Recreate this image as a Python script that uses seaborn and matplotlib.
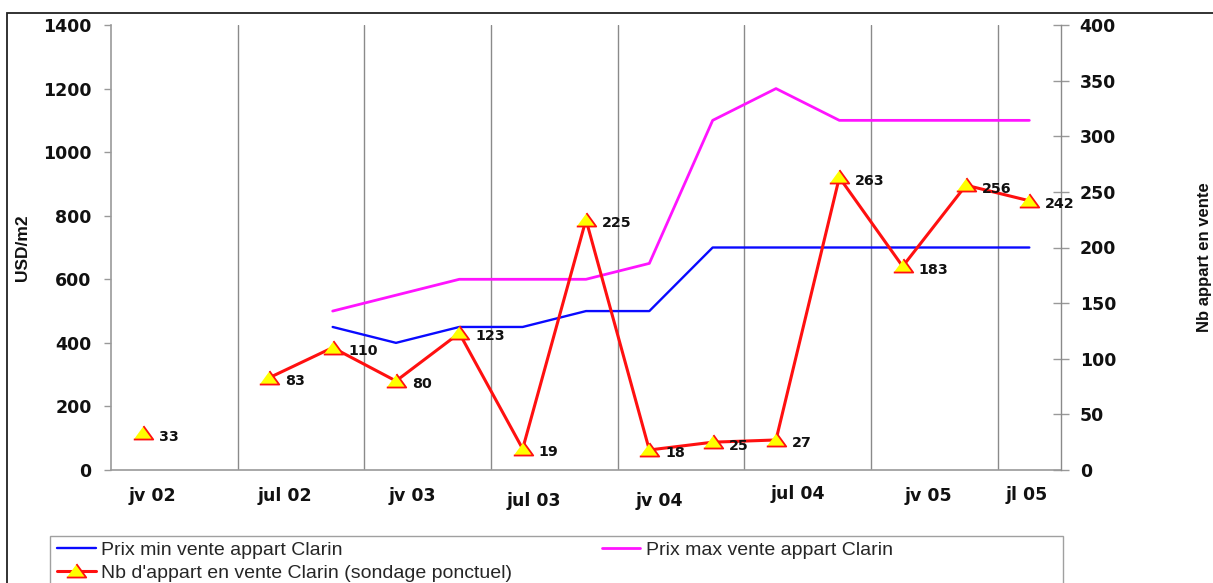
import matplotlib
matplotlib.use("Agg")
import matplotlib.pyplot as plt
from matplotlib.patches import Rectangle
import seaborn as sns

# Survey slots (15 slots from jan 02 to jul 05)
slot_count = 15

min_slots = [3, 4, 5, 6, 7, 8, 9, 10, 11, 12, 13, 14]
prix_min = [450, 400, 450, 450, 500, 500, 700, 700, 700, 700, 700, 700]

max_slots = [3, 4, 5, 6, 7, 8, 9, 10, 11, 12, 13, 14]
prix_max = [500, 550, 600, 600, 600, 650, 1100, 1200, 1100, 1100, 1100, 1100]

nb_slots = [0, 2, 3, 4, 5, 6, 7, 8, 9, 10, 11, 12, 13, 14]
nb_appart = [33, 83, 110, 80, 123, 19, 225, 18, 25, 27, 263, 183, 256, 242]

period_labels = ["jv 02", "jul 02", "jv 03", "jul 03", "jv 04", "jul 04", "jv 05", "jl 05"]
period_label_x = [0.16, 2.24, 4.26, 6.17, 8.16, 10.35, 12.4, 13.96]
period_label_drop = [19.0, 19.0, 18.5, 22.0, 22.0, 17.0, 19.0, 18.0]  # points below axis

left_ticks = list(range(0, 1401, 200))
right_ticks = list(range(0, 401, 50))

sns.set_style("white")
plt.rcParams["font.family"] = ["Liberation Sans", "DejaVu Sans"]

W, H = 1213, 583
fig = plt.figure(figsize=(W / 100, H / 100), dpi=100)
ax1 = fig.add_axes([111 / W, 113 / H, 950 / W, 445 / H])
ax2 = ax1.twinx()

BLUE = "#0a0aff"
MAGENTA = "#ff14ff"
RED = "#ff1010"

sns.lineplot(x=min_slots, y=prix_min, ax=ax1, color=BLUE, lw=1.7,
             label="Prix min vente appart Clarin")
sns.lineplot(x=max_slots, y=prix_max, ax=ax1, color=MAGENTA, lw=2.0,
             label="Prix max vente appart Clarin")

tri = [(-1.0, -0.62), (1.0, -0.62), (0.0, 0.76)]
marker_kw = dict(marker=tri, markersize=14, markerfacecolor="#ffff00",
                 markeredgecolor=RED, markeredgewidth=1.3)

# the first survey is isolated (no survey in slot 1), so it is drawn alone
sns.lineplot(x=nb_slots[:1], y=nb_appart[:1], ax=ax2, color=RED, lw=2.2,
             legend=False, **marker_kw)
sns.lineplot(x=nb_slots[1:], y=nb_appart[1:], ax=ax2, color=RED, lw=2.2,
             label="Nb d'appart en vente Clarin (sondage ponctuel)", **marker_kw)

for s, v in zip(nb_slots, nb_appart):
    ax2.annotate(f"{v}", xy=(s, v), xytext=(11.5, -2.4), textcoords="offset points",
                 ha="left", va="center", fontsize=10.3, fontweight="bold",
                 family="DejaVu Sans", color="#111111", annotation_clip=False)

# axes ranges and ticks
ax1.set_xlim(-0.5, slot_count - 0.5)
ax1.set_ylim(0, 1400)
ax2.set_ylim(0, 400)
ax1.set_yticks(left_ticks)
ax2.set_yticks(right_ticks)
ax1.set_xticks([])
ax1.set_xticks([1.5, 3.5, 5.5, 7.5, 9.5, 11.5, 13.5], minor=True)
ax1.grid(which="minor", axis="x", color="#8a8a8a", lw=1.0)
ax1.grid(which="major", visible=False)
ax2.grid(False)
ax1.tick_params(axis="x", which="both", length=0, labelbottom=False)
ax1.tick_params(axis="y", which="major", direction="out", length=5, width=1,
                color="#999999", pad=9, labelsize=12.5, left=True)
ax2.tick_params(axis="y", which="major", direction="inout", length=11, width=1,
                color="#999999", pad=8, labelsize=12.5, right=True)
for lab in ax1.get_yticklabels() + ax2.get_yticklabels():
    lab.set_fontweight("bold")
    lab.set_family("DejaVu Sans")
    lab.set_color("#111111")

for side in ["top", "right"]:
    ax1.spines[side].set_visible(False)
for side in ["left", "bottom"]:
    ax1.spines[side].set_color("#9a9a9a")
    ax1.spines[side].set_linewidth(1.2)
for side in ["top", "left", "bottom"]:
    ax2.spines[side].set_visible(False)
ax2.spines["right"].set_color("#8a8a8a")
ax2.spines["right"].set_linewidth(1.0)

for lab, x, d in zip(period_labels, period_label_x, period_label_drop):
    ax1.annotate(lab, xy=(x, 0), xycoords=("data", "axes fraction"),
                 xytext=(0, -d), textcoords="offset points", ha="center", va="center",
                 fontsize=12.5, fontweight="bold", family="DejaVu Sans",
                 color="#111111", annotation_clip=False)

ax1.set_ylabel("")
ax2.set_ylabel("")
fig.text(22 / W, 1 - 247.5 / H, "USD/m2", rotation=90, ha="center", va="center",
         fontsize=12.5, fontweight="bold", color="#111111")
fig.text(1205 / W, 1 - 257 / H, "Nb appart en vente", rotation=90, ha="center",
         va="center", fontsize=12, fontweight="bold", color="#111111")

# legend beneath the plot
h1, l1 = ax1.get_legend_handles_labels()
h2, l2 = ax2.get_legend_handles_labels()
for a in (ax1, ax2):
    if a.get_legend() is not None:
        a.get_legend().remove()
handles = [h1[0], h2[0], h1[1]]
labels = [l1[0], l2[0], l1[1]]
fig.legend(handles, labels, loc="upper left", bbox_to_anchor=(57 / W, 1 - 541 / H),
           ncol=2, frameon=False, fontsize=14, handlelength=2.0, handletextpad=0.27,
           columnspacing=4.6, labelspacing=0.3, borderpad=0, borderaxespad=0)

fig.add_artist(Rectangle((50 / W, -0.1), 1013 / W, 0.1 + (1 - 536 / H),
                         transform=fig.transFigure, fill=False, ec="#a0a0a0", lw=1.0))
fig.add_artist(Rectangle((7 / W, -0.1), 1.2, 0.1 + (1 - 13 / H),
                         transform=fig.transFigure, fill=False, ec="#222222", lw=1.3))

fig.savefig("out.png", dpi=100)
